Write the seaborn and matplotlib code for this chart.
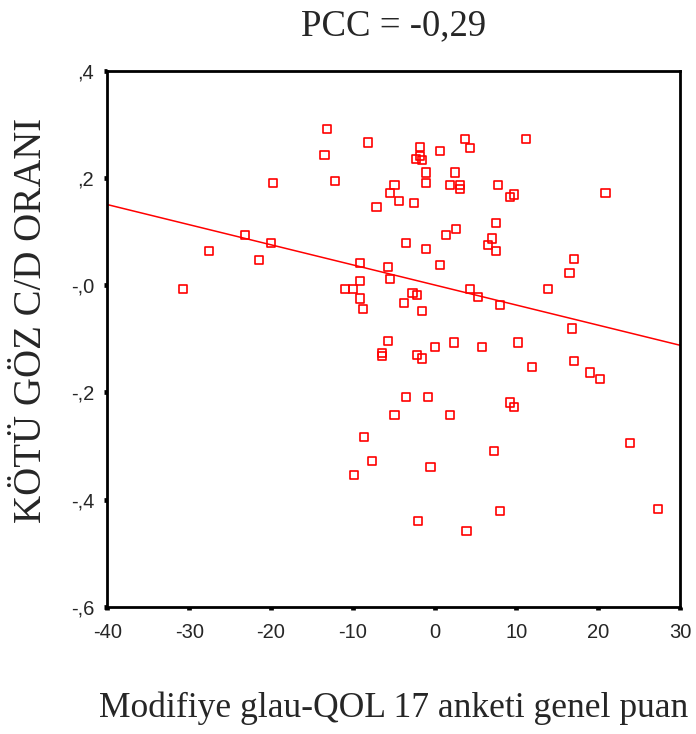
import matplotlib
matplotlib.use("Agg")
import matplotlib.pyplot as plt
import pandas as pd
import seaborn as sns

# scores (x) and bad-eye C/D ratio (y)
puan = [-13.2, -8.1, -13.45, -19.8, -12.2, -4.9, -5.4, -4.4, -7.1, -23.2,
        -20.0, -27.6, -21.5, -9.1, -5.65, -5.4, -9.1, -30.8, -11.0, -10.0,
        -9.1, -8.8, -3.7, -5.65, 3.7, 11.2, 4.35, -1.75, 0.7, -2.3,
        -1.75, -1.5, -1.0, 2.45, -1.0, 1.9, 3.1, 3.1, 7.8, 9.2,
        9.7, 20.9, -2.5, 7.5, 2.65, 1.45, -3.45, 7.05, 6.55, 7.5,
        -1.0, 17.0, 16.5, 0.7, 4.35, 13.9, -2.7, -2.2, 5.3, 8.0,
        -1.5, 16.8, -6.4, -6.4, -2.2, -1.5, 0.0, 2.4, 5.8, 10.2,
        11.9, 17.0, 19.0, 20.2, -3.45, -0.8, -4.9, 1.9, 9.2, 9.7,
        23.9, 7.3, -0.5, 27.3, 8.0, -2.0, 3.9, -8.6, -7.6, -9.8]
cd_oran = [0.292, 0.266, 0.243, 0.191, 0.195, 0.187, 0.172, 0.157, 0.146, 0.094,
           0.079, 0.064, 0.046, 0.042, 0.034, 0.012, 0.008, -0.007, -0.007, -0.007,
           -0.025, -0.044, -0.033, -0.104, 0.273, 0.273, 0.255, 0.258, 0.251, 0.236,
           0.240, 0.233, 0.210, 0.210, 0.191, 0.187, 0.187, 0.179, 0.187, 0.165,
           0.169, 0.172, 0.154, 0.116, 0.105, 0.094, 0.079, 0.087, 0.075, 0.064,
           0.068, 0.049, 0.023, 0.038, -0.007, -0.007, -0.014, -0.018, -0.022, -0.037,
           -0.048, -0.081, -0.127, -0.133, -0.130, -0.137, -0.115, -0.107, -0.115, -0.107,
           -0.152, -0.141, -0.163, -0.175, -0.208, -0.208, -0.242, -0.242, -0.219, -0.227,
           -0.294, -0.309, -0.339, -0.417, -0.421, -0.440, -0.458, -0.283, -0.328, -0.354]

x_ticks = [-40, -30, -20, -10, 0, 10, 20, 30]
x_ticklabels = ["-40", "-30", "-20", "-10", "0", "10", "20", "30"]
y_ticks = [0.4, 0.2, 0.0, -0.2, -0.4, -0.6]
y_ticklabels = [",4", ",2", "-,0", "-,2", "-,4", "-,6"]

df = pd.DataFrame({"puan": puan, "oran": cd_oran})

sns.set_style("white")
plt.rcParams["font.family"] = ["Liberation Sans", "DejaVu Sans"]
serif = ["Liberation Serif", "DejaVu Serif"]

fig = plt.figure(figsize=(6.96, 7.34), dpi=100)
ax = fig.add_axes([0.1542, 0.1734, 0.977 - 0.1542, 0.9037 - 0.1734])
ax.set_xlim(-40, 30)
ax.set_ylim(-0.6, 0.4)

# fit line over the whole x range, then the hollow squares
sns.regplot(data=df, x="puan", y="oran", ax=ax, ci=None, truncate=False,
            scatter=False, line_kws={"color": "#ff0000", "linewidth": 1.1})
sns.scatterplot(data=df, x="puan", y="oran", ax=ax, marker="s", s=34,
                facecolor="none", edgecolor="#ff0000", linewidth=1.2, zorder=3)

ax.set_xlim(-40, 30)
ax.set_ylim(-0.6, 0.4)
ax.set_xticks(x_ticks)
ax.set_xticklabels(x_ticklabels)
ax.set_yticks(y_ticks)
ax.set_yticklabels(y_ticklabels)
ax.tick_params(bottom=True, left=True, direction="out", length=2.4, width=3.4,
               color="black", labelsize=14.5)
ax.tick_params(axis="x", pad=9)
ax.tick_params(axis="y", pad=7)
for s in ax.spines.values():
    s.set_visible(True)
    s.set_color("black")
    s.set_linewidth(2)

ax.set_xlabel("Modifiye glau-QOL 17 anketi genel puan", family=serif,
              fontsize=25.6, labelpad=36)
ax.set_ylabel("KÖTÜ GÖZ C/D ORANI", family=serif, fontsize=28, labelpad=15)
ax.yaxis.label.set_y(0.535)
ax.set_title("PCC = -0,29", family=serif, fontsize=26.5, pad=25.5)

fig.savefig("out.png", dpi=100)
